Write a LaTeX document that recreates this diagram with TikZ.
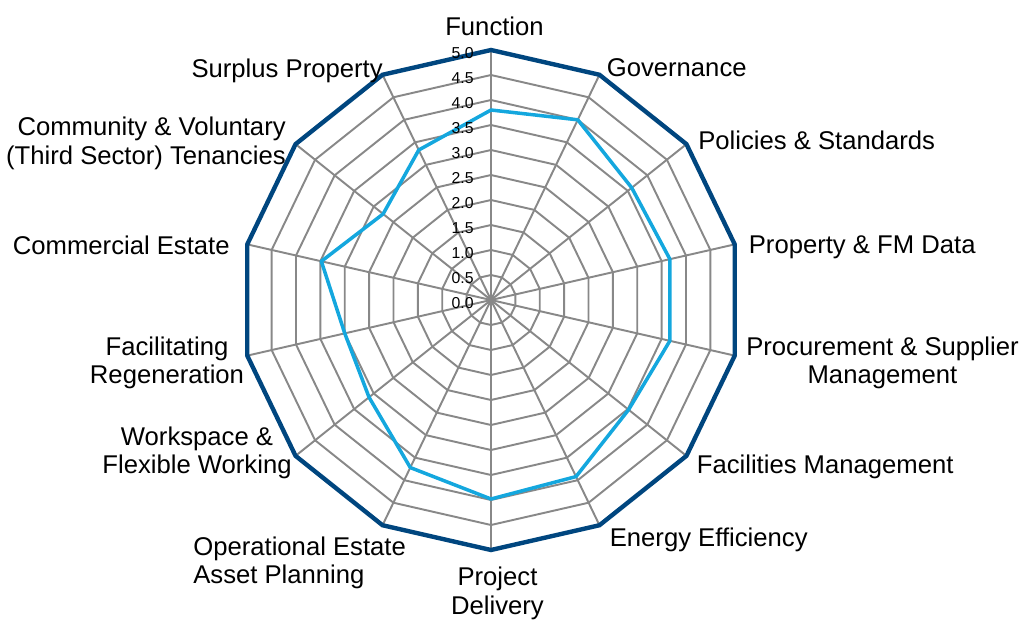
\documentclass[tikz,border=0pt]{standalone}
\usepackage{fontspec}
\setmainfont{Liberation Sans}

\definecolor{ringblue}{RGB}{0,70,127}
\definecolor{scoreblue}{RGB}{20,167,222}
\definecolor{webgray}{RGB}{136,136,136}

\begin{document}
\begin{tikzpicture}[
        gridline/.style={webgray,line width=1.1pt},
        outerline/.style={ringblue,line width=2.5pt,line join=miter},
        scoreline/.style={scoreblue,line width=2pt,line join=round},
        axislabel/.style={font=\fontsize{14.6}{16}\selectfont,inner sep=0pt,anchor=base},
        ticklabel/.style={font=\fontsize{9}{10}\selectfont,inner sep=0pt,anchor=east}
    ]
        \useasboundingbox (-9.82,-6.38) rectangle (10.56,6.0);

        % rings and spokes
        \foreach \r in {0.5,1,...,4.5}
            \draw[gridline] (90:\r) \foreach \k in {1,...,13} { -- ({90-\k*360/14}:\r) } -- cycle;
        \coordinate (centre) at (0,0);
        \foreach \k in {0,...,13} {
            \coordinate (o\k) at ({90-\k*360/14}:5);
            \draw[gridline] (centre) -- (o\k);
        }
        \draw[outerline] (o0) \foreach \k in {1,...,13} { -- (o\k) } -- cycle;

        % scores
        \foreach \v [count=\k from 0] in {3.8,4.0,3.6,3.67,3.67,3.52,3.92,3.98,3.72,3.12,3.0,3.48,2.76,3.33}
            \coordinate (d\k) at ({90-\k*360/14}:\v);
        \draw[scoreline] (d0) \foreach \k in {1,...,13} { -- (d\k) } -- cycle;

        % scale
        \foreach \t [count=\n from 0] in {0.0,0.5,1.0,1.5,2.0,2.5,3.0,3.5,4.0,4.5,5.0}
            \node[ticklabel] (tick\n) at (-0.34,{\n*0.5-0.07}) {\t};

        % axis labels (two-line ones sit on their last line)
        \node[axislabel] (function) at (0.07,5.28) {Function};
        \node[axislabel,anchor=base west] (governance) at (2.31,4.46) {Governance};
        \node[axislabel,anchor=base west] (policies) at (4.14,3.01) {Policies \& Standards};
        \node[axislabel,anchor=base west] (fmdata) at (5.15,0.93) {Property \& FM Data};
        \node[axislabel,align=center] (procurement) at (7.83,-1.67) {Procurement \& Supplier\\Management};
        \node[axislabel,anchor=base west] (facilities) at (4.11,-3.47) {Facilities Management};
        \node[axislabel,anchor=base west] (energy) at (2.37,-4.92) {Energy Efficiency};
        \node[axislabel,align=center] (project) at (0.13,-6.28) {Project\\Delivery};
        \node[axislabel,anchor=base west,align=left] (operational) at (-5.96,-5.67) {Operational Estate\\Asset Planning};
        \node[axislabel,align=center] (workspace) at (-5.88,-3.47) {Workspace \&\\Flexible Working};
        \node[axislabel,align=center] (regeneration) at (-6.48,-1.67) {Facilitating\\Regeneration};
        \node[axislabel,anchor=base east] (commercial) at (-5.22,0.92) {Commercial Estate};
        \node[axislabel,anchor=base east,align=right] (community) at (-4.10,2.72) {Community \& Voluntary\\(Third Sector) Tenancies};
        \node[axislabel,anchor=base east] (surplus) at (-2.16,4.44) {Surplus Property};
    \end{tikzpicture}
\end{document}
